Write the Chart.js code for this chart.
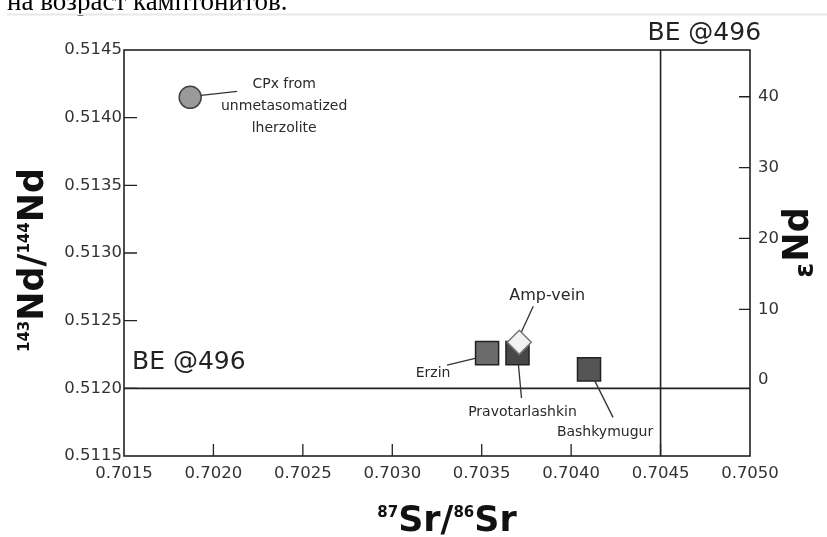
<!DOCTYPE html>
<html>
<head>
<meta charset="utf-8">
<script src="https://cdn.jsdelivr.net/npm/chart.js@4.4.1/dist/chart.umd.min.js"></script>
<style>
  html, body { margin: 0; padding: 0; background: #fff; }
  #wrap { position: relative; width: 827px; height: 537px; }
</style>
</head>
<body>
<div id="wrap"><canvas id="c" width="827" height="537"></canvas></div>
<script>
// ---- data ----
const sampleNames = ['CPx from unmetasomatized lherzolite', 'Erzin', 'Pravotarlashkin', 'Bashkymugur', 'Amp-vein'];
const srRatio = [0.70187, 0.70353, 0.70370, 0.70410, 0.70371];
const ndRatio = [0.51415, 0.51226, 0.51226, 0.51214, 0.51234];
const srTicks = [0.7015, 0.7020, 0.7025, 0.7030, 0.7035, 0.7040, 0.7045, 0.7050];
const ndTicks = [0.5115, 0.5120, 0.5125, 0.5130, 0.5135, 0.5140, 0.5145];
const eNdTicks = [0, 10, 20, 30, 40];
const eNdRange = [-10.7, 46.6];
const bulkEarthSr = 0.7045;
const bulkEarthNd = 0.5120;
const bulkEarthLabel = 'BE @496';
const pageText = 'на возраст камптонитов.';

// ---- styles (not data) ----
const pointStyles = [
  { style: 'circle', radius: 11, fill: '#9a9a9a', stroke: '#444', order: 5 },
  { style: 'rect', radius: 16.3, fill: '#6b6b6b', stroke: '#222', order: 4 },
  { style: 'rect', radius: 16.3, fill: '#474747', stroke: '#222', order: 3 },
  { style: 'rect', radius: 16.3, fill: '#555555', stroke: '#222', order: 2 },
  { style: 'rectRot', radius: 12, fill: '#f2f2f2', stroke: '#777', order: 1 }
];
const labelStyles = [
  { lines: ['CPx from', 'unmetasomatized', 'lherzolite'], size: 14, dx: 94, dys: [-13, 9, 31], lead: [11, -2, 47, -6] },
  { lines: ['Erzin'], size: 14, dx: -54, dys: [20], lead: [-40, 12, -11, 5] },
  { lines: ['Pravotarlashkin'], size: 14, dx: 5, dys: [59], lead: [1, 12, 4, 45] },
  { lines: ['Bashkymugur'], size: 14, dx: 16, dys: [63], lead: [6, 12, 24, 48] },
  { lines: ['Amp-vein'], size: 16, dx: 28, dys: [-46], lead: [14, -36, 2, -10] }
];

const datasets = sampleNames.map((n, i) => ({
  label: n,
  data: [{ x: srRatio[i], y: ndRatio[i] }],
  order: pointStyles[i].order,
  pointStyle: pointStyles[i].style,
  pointRadius: pointStyles[i].radius,
  pointHoverRadius: pointStyles[i].radius,
  backgroundColor: pointStyles[i].fill,
  borderColor: pointStyles[i].stroke,
  borderWidth: 1.5,
  yAxisID: 'y'
}));

const tickFont = { family: 'DejaVu Sans', size: 16.5 };
const tickColor = '#333';

const decor = {
  id: 'decor',
  beforeDatasetsDraw(chart) {
    const { ctx, chartArea: a, scales } = chart;
    ctx.save();
    // page text fragment at top
    ctx.fillStyle = '#000';
    ctx.font = '27px "Liberation Serif", serif';
    ctx.textBaseline = 'alphabetic';
    ctx.textAlign = 'left';
    ctx.fillText(pageText, 7, 10);
    ctx.strokeStyle = '#e8e8e8';
    ctx.lineWidth = 2;
    ctx.beginPath(); ctx.moveTo(7, 14.5); ctx.lineTo(827, 14.5); ctx.stroke();

    // frame
    ctx.strokeStyle = '#222';
    ctx.lineWidth = 1.6;
    ctx.strokeRect(a.left, a.top, a.right - a.left, a.bottom - a.top);
    // bulk earth lines
    const bx = scales.x.getPixelForValue(bulkEarthSr);
    const by = scales.y.getPixelForValue(bulkEarthNd);
    ctx.beginPath();
    ctx.moveTo(bx, a.top); ctx.lineTo(bx, a.bottom);
    ctx.moveTo(a.left, by); ctx.lineTo(a.right, by);
    ctx.stroke();
    // inward tick marks
    ctx.lineWidth = 1.3;
    ctx.beginPath();
    srTicks.forEach(v => {
      if (v <= srTicks[0] || v >= srTicks[srTicks.length - 1]) return;
      const px = scales.x.getPixelForValue(v);
      ctx.moveTo(px, a.bottom); ctx.lineTo(px, a.bottom - 12);
    });
    ndTicks.forEach(v => {
      if (v <= ndTicks[0] || v >= ndTicks[ndTicks.length - 1]) return;
      const py = scales.y.getPixelForValue(v);
      ctx.moveTo(a.left, py); ctx.lineTo(a.left + 13, py);
    });
    eNdTicks.forEach(v => {
      if (v === 0) return;
      const py = scales.y2.getPixelForValue(v);
      ctx.moveTo(a.right, py); ctx.lineTo(a.right - 11, py);
    });
    ctx.stroke();

    // BE labels
    ctx.fillStyle = '#222';
    ctx.font = '25px "DejaVu Sans", sans-serif';
    ctx.textBaseline = 'middle';
    ctx.textAlign = 'center';
    ctx.fillText(bulkEarthLabel, (bx + a.right) / 2 - 1, a.top - 17);
    ctx.textAlign = 'left';
    ctx.fillText(bulkEarthLabel, a.left + 8, by - 26);

    // leader lines + labels
    ctx.strokeStyle = '#333';
    ctx.lineWidth = 1.3;
    chart.data.datasets.forEach((ds, i) => {
      const el = chart.getDatasetMeta(i).data[0];
      const L = labelStyles[i];
      ctx.beginPath();
      ctx.moveTo(el.x + L.lead[0], el.y + L.lead[1]);
      ctx.lineTo(el.x + L.lead[2], el.y + L.lead[3]);
      ctx.stroke();
      ctx.fillStyle = '#2a2a2a';
      ctx.font = L.size + 'px "DejaVu Sans", sans-serif';
      ctx.textAlign = 'center';
      ctx.textBaseline = 'middle';
      L.lines.forEach((t, k) => ctx.fillText(t, el.x + L.dx, el.y + L.dys[k]));
    });
    ctx.restore();
  },
  afterDraw(chart) {
    const { ctx } = chart;
    ctx.save();
    ctx.fillStyle = '#111';
    const big = 'bold 35px "DejaVu Sans", sans-serif';
    const sup = 'bold 15px "DejaVu Sans", sans-serif';
    function drawParts(parts) {
      let w = 0;
      parts.forEach(p => { ctx.font = p[1] ? sup : big; w += ctx.measureText(p[0]).width; });
      let x = -w / 2;
      parts.forEach(p => {
        ctx.font = p[1] ? sup : big;
        ctx.fillText(p[0], x, p[1] ? -14 : 0);
        x += ctx.measureText(p[0]).width;
      });
    }
    ctx.textBaseline = 'alphabetic';
    ctx.textAlign = 'left';
    // bottom title
    ctx.save();
    ctx.translate(447, 531);
    drawParts([['87', true], ['Sr/', false], ['86', true], ['Sr', false]]);
    ctx.restore();
    // left title
    ctx.save();
    ctx.translate(43, 260);
    ctx.rotate(-Math.PI / 2);
    drawParts([['143', true], ['Nd/', false], ['144', true], ['Nd', false]]);
    ctx.restore();
    // right title: epsilon then Nd
    ctx.save();
    ctx.translate(808, 243);
    ctx.rotate(-Math.PI / 2);
    const epsFont = 'bold 27px "DejaVu Sans", sans-serif';
    ctx.font = epsFont;
    const ew = ctx.measureText('ε').width;
    ctx.font = big;
    const nw = ctx.measureText('Nd').width;
    const x0 = -(ew + nw) / 2;
    ctx.font = epsFont;
    ctx.fillText('ε', x0, 5);
    ctx.font = big;
    ctx.fillText('Nd', x0 + ew + 1, 0);
    ctx.restore();
    ctx.restore();
  }
};

new Chart(document.getElementById('c'), {
  type: 'scatter',
  data: { datasets },
  options: {
    responsive: false,
    animation: false,
    events: [],
    layout: { padding: { top: 50, left: 0, right: 0, bottom: 0 } },
    plugins: { legend: { display: false }, tooltip: { enabled: false } },
    scales: {
      x: {
        type: 'linear', position: 'bottom',
        min: srTicks[0], max: srTicks[srTicks.length - 1],
        afterBuildTicks: s => { s.ticks = srTicks.map(v => ({ value: v })); },
        afterFit: s => { s.height = 81; },
        ticks: { font: tickFont, color: tickColor, padding: 8, maxRotation: 0, autoSkip: false, callback: v => v.toFixed(4) },
        grid: { display: false, drawTicks: false },
        border: { display: false }
      },
      y: {
        type: 'linear', position: 'left',
        min: ndTicks[0], max: ndTicks[ndTicks.length - 1],
        afterBuildTicks: s => { s.ticks = ndTicks.map(v => ({ value: v })); },
        afterFit: s => { s.width = 124; },
        ticks: { font: tickFont, color: tickColor, padding: 2, autoSkip: false, callback: v => v.toFixed(4) },
        grid: { display: false, drawTicks: false },
        border: { display: false }
      },
      y2: {
        type: 'linear', position: 'right',
        min: eNdRange[0], max: eNdRange[1],
        afterBuildTicks: s => { s.ticks = eNdTicks.map(v => ({ value: v })); },
        afterFit: s => { s.width = 77; },
        ticks: { font: tickFont, color: tickColor, padding: 8, autoSkip: false, callback: v => String(v) },
        grid: { display: false, drawTicks: false },
        border: { display: false }
      }
    }
  },
  plugins: [decor]
});
</script>
</body>
</html>
